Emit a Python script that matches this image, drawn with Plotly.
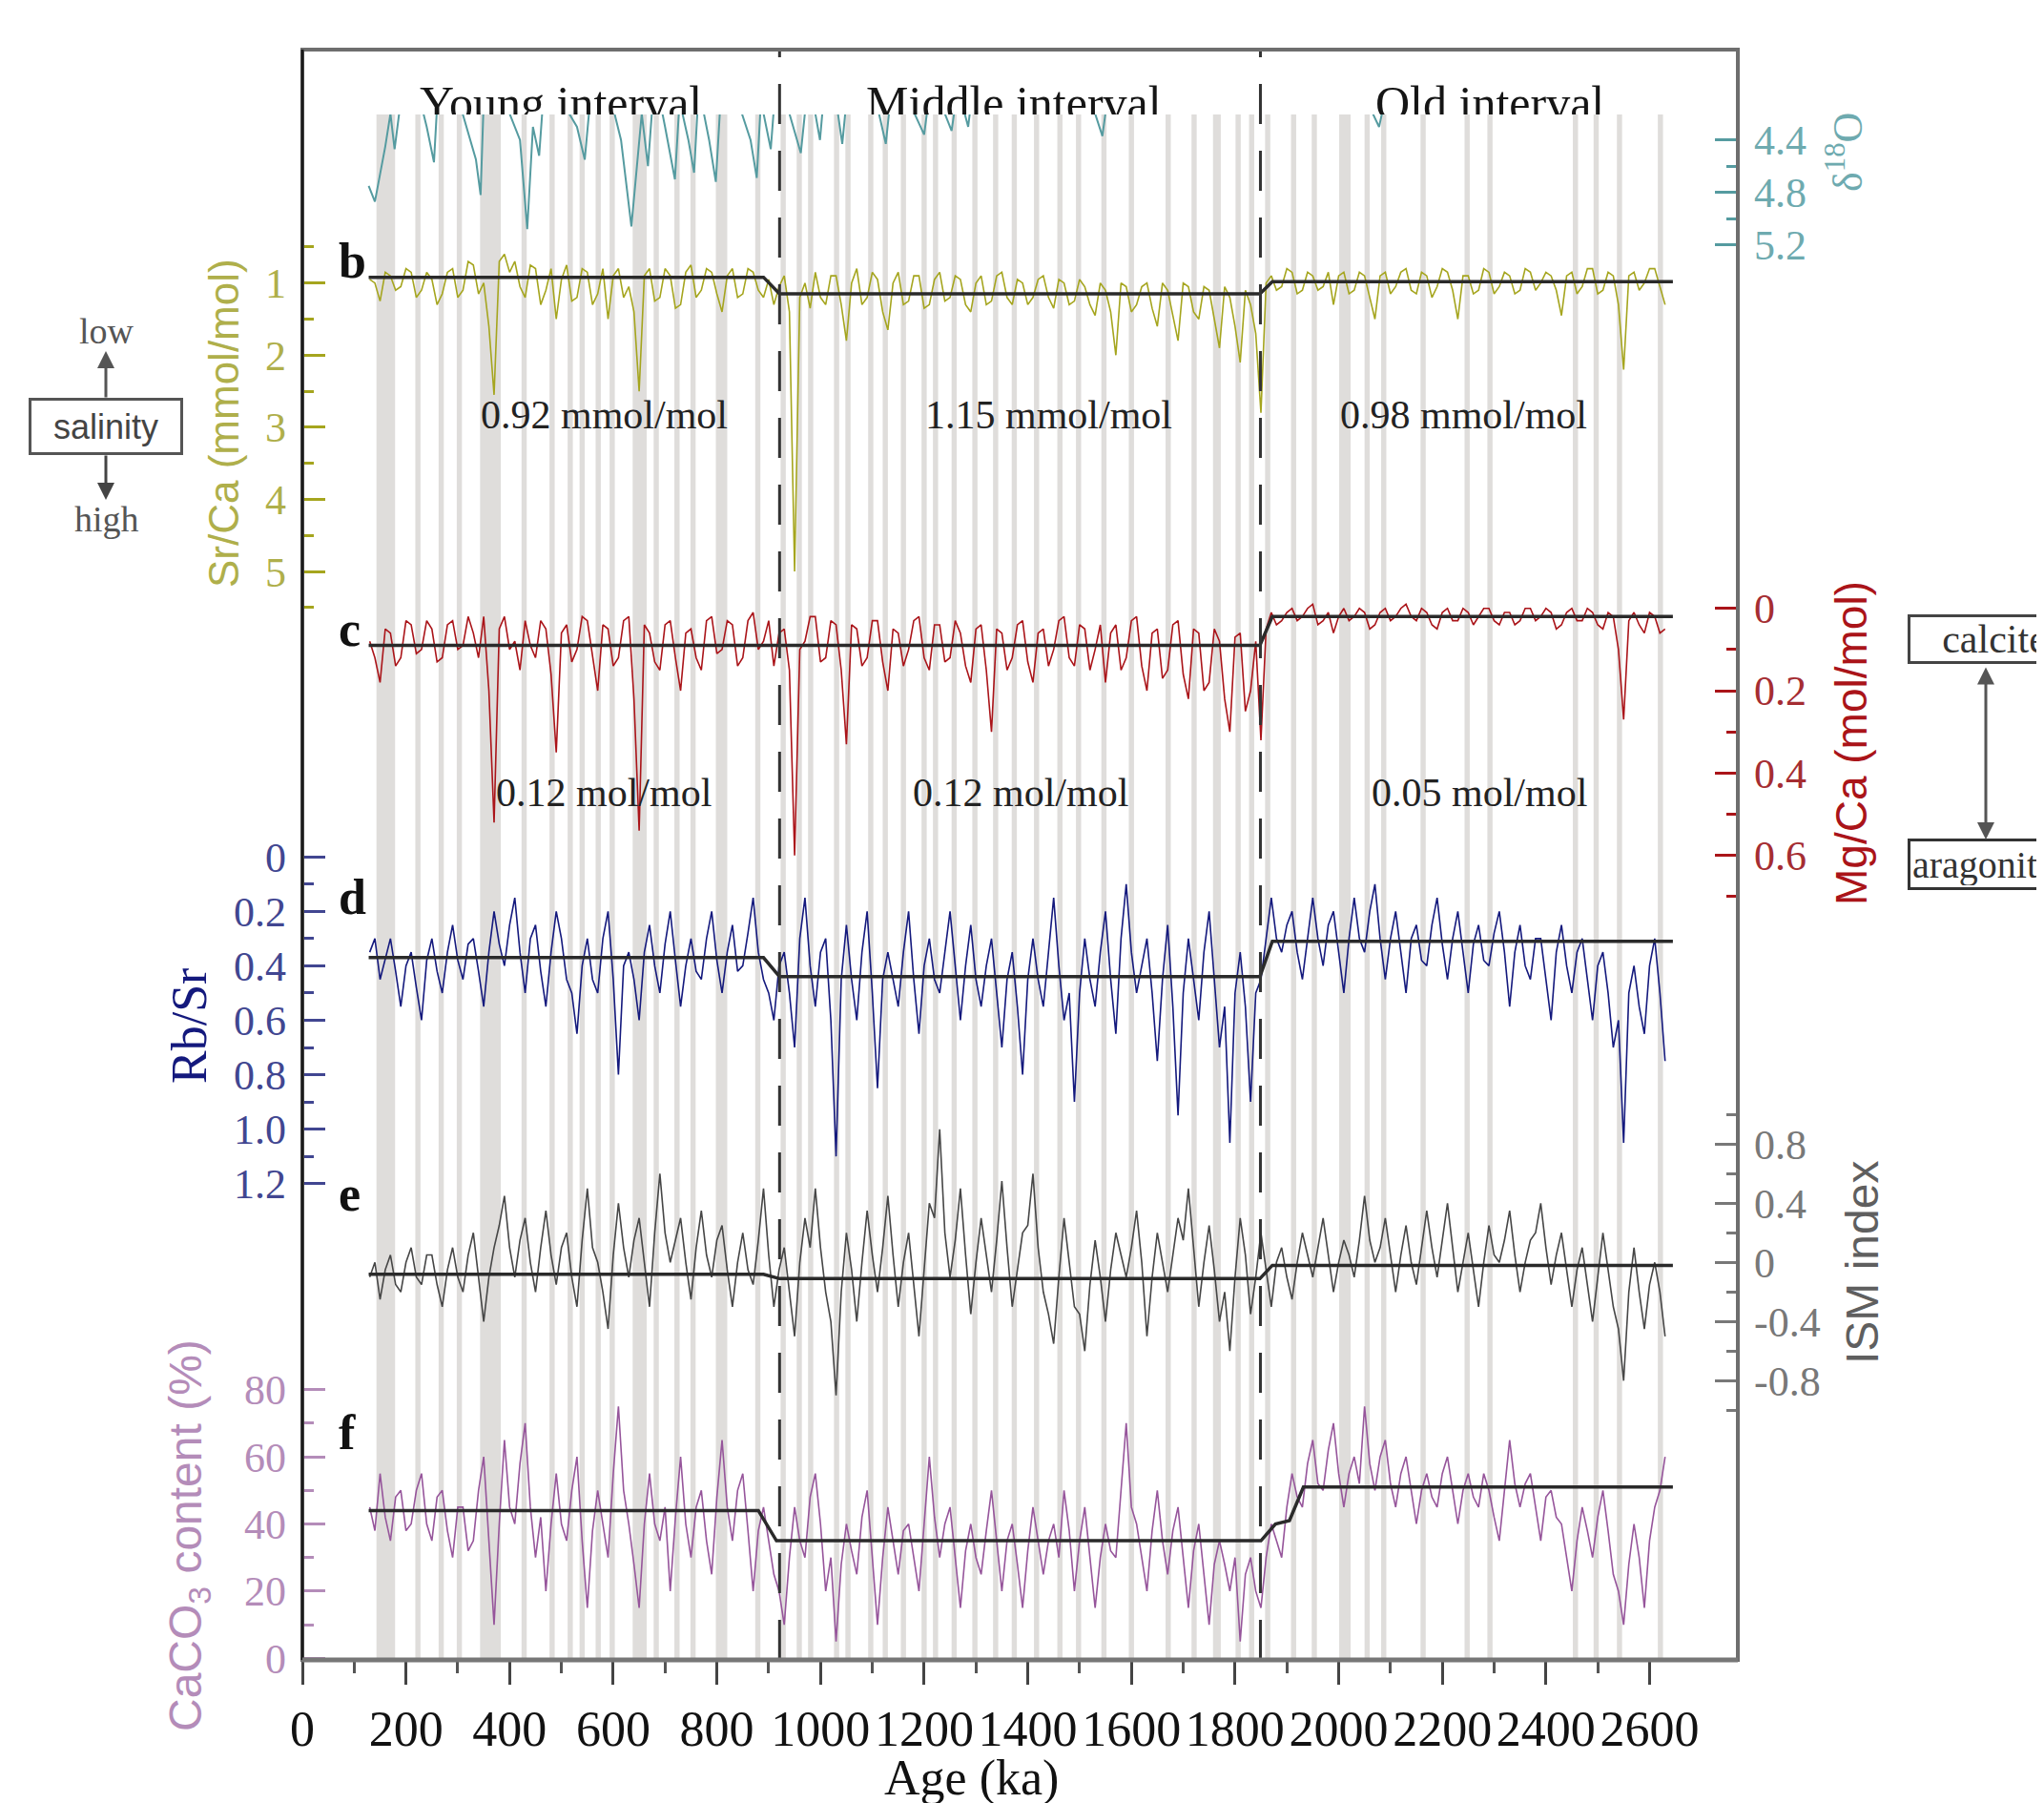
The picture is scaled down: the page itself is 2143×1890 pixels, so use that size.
import plotly.graph_objects as go

# ---------------- data ----------------
AGE = [130, 140, 150, 160, 170, 180, 190, 200, 210, 220,
       230, 240, 250, 260, 270, 280, 290, 300, 310, 320,
       330, 340, 350, 360, 370, 380, 390, 400, 410, 420,
       430, 440, 450, 460, 470, 480, 490, 500, 510, 520,
       530, 540, 550, 560, 570, 580, 590, 600, 610, 620,
       630, 640, 650, 660, 670, 680, 690, 700, 710, 720,
       730, 740, 750, 760, 770, 780, 790, 800, 810, 820,
       830, 840, 850, 860, 870, 880, 890, 900, 910, 920,
       930, 940, 950, 960, 970, 980, 990, 1000, 1010, 1020,
       1030, 1040, 1050, 1060, 1070, 1080, 1090, 1100, 1110, 1120,
       1130, 1140, 1150, 1160, 1170, 1180, 1190, 1200, 1210, 1220,
       1230, 1240, 1250, 1260, 1270, 1280, 1290, 1300, 1310, 1320,
       1330, 1340, 1350, 1360, 1370, 1380, 1390, 1400, 1410, 1420,
       1430, 1440, 1450, 1460, 1470, 1480, 1490, 1500, 1510, 1520,
       1530, 1540, 1550, 1560, 1570, 1580, 1590, 1600, 1610, 1620,
       1630, 1640, 1650, 1660, 1670, 1680, 1690, 1700, 1710, 1720,
       1730, 1740, 1750, 1760, 1770, 1780, 1790, 1800, 1810, 1820,
       1830, 1840, 1850, 1860, 1870, 1880, 1890, 1900, 1910, 1920,
       1930, 1940, 1950, 1960, 1970, 1980, 1990, 2000, 2010, 2020,
       2030, 2040, 2050, 2060, 2070, 2080, 2090, 2100, 2110, 2120,
       2130, 2140, 2150, 2160, 2170, 2180, 2190, 2200, 2210, 2220,
       2230, 2240, 2250, 2260, 2270, 2280, 2290, 2300, 2310, 2320,
       2330, 2340, 2350, 2360, 2370, 2380, 2390, 2400, 2410, 2420,
       2430, 2440, 2450, 2460, 2470, 2480, 2490, 2500, 2510, 2520,
       2530, 2540, 2550, 2560, 2570, 2580, 2590, 2600, 2610, 2620,
       2630]

SRCA = [0.95, 1.0, 1.25, 0.85, 0.9, 1.1, 1.05, 0.8, 0.85, 1.2,
        1.1, 0.85, 0.95, 1.3, 1.15, 0.85, 0.8, 1.2, 1.1, 0.7,
        0.75, 1.15, 1.0, 1.6, 2.55, 0.7, 0.6, 0.85, 0.7, 1.05,
        1.2, 0.75, 0.8, 1.3, 1.1, 0.8, 1.5, 0.95, 0.75, 1.25,
        1.2, 0.8, 0.85, 1.3, 1.15, 0.8, 1.5, 0.9, 0.8, 1.2,
        1.05, 1.4, 2.5, 0.9, 0.8, 1.25, 1.2, 0.8, 0.9, 1.35,
        1.3, 0.85, 0.75, 1.2, 1.1, 0.8, 0.85, 1.15, 1.4, 0.9,
        0.8, 1.2, 1.15, 0.8, 0.85, 1.1, 1.2, 0.95, 1.3, 1.05,
        0.9, 1.4, 5.0, 1.2, 1.0, 1.35, 0.85, 1.2, 1.3, 0.9,
        0.9, 1.3, 1.8, 1.0, 0.8, 1.3, 1.2, 0.85, 0.95, 1.4,
        1.65, 1.0, 0.85, 1.3, 1.25, 0.9, 0.9, 1.35, 1.3, 0.95,
        0.85, 1.25, 1.2, 0.9, 0.95, 1.3, 1.4, 1.0, 0.9, 1.3,
        1.25, 0.9, 0.85, 1.2, 1.3, 0.95, 1.0, 1.3, 1.2, 0.95,
        0.9, 1.2, 1.35, 0.95, 1.0, 1.3, 1.25, 0.95, 1.05, 1.3,
        1.45, 1.0, 1.1, 1.4, 2.0, 1.0, 1.05, 1.4, 1.3, 1.05,
        1.0, 1.35, 1.6, 1.0, 1.1, 1.45, 1.8, 1.0, 1.05, 1.4,
        1.5, 1.05, 1.1, 1.5, 1.9, 1.05, 1.2, 1.6, 2.1, 1.1,
        1.3, 1.7, 2.8, 1.0, 0.9, 1.1, 1.05, 0.8, 0.85, 1.15,
        1.1, 0.85, 0.9, 1.1, 1.05, 0.85, 1.3, 0.9, 0.85, 1.15,
        1.1, 0.85, 0.9, 1.2, 1.5, 0.9, 0.85, 1.15, 1.05, 0.85,
        0.8, 1.1, 1.15, 0.85, 0.9, 1.2, 1.05, 0.8, 0.85, 1.1,
        1.5, 0.9, 0.9, 1.15, 1.1, 0.8, 0.85, 1.15, 1.05, 0.85,
        0.9, 1.15, 1.1, 0.8, 0.85, 1.1, 1.0, 0.85, 0.9, 1.1,
        1.45, 0.9, 0.85, 1.15, 1.05, 0.8, 0.8, 1.15, 1.1, 0.85,
        0.9, 1.3, 2.2, 0.9, 0.85, 1.1, 1.0, 0.8, 0.8, 1.05,
        1.3]

MGCA = [0.08, 0.12, 0.18, 0.05, 0.06, 0.14, 0.12, 0.03, 0.04, 0.11,
        0.1, 0.03, 0.05, 0.13, 0.12, 0.04, 0.03, 0.1, 0.09, 0.02,
        0.06, 0.12, 0.02, 0.2, 0.52, 0.05, 0.02, 0.1, 0.08, 0.15,
        0.03, 0.09, 0.12, 0.03, 0.05, 0.16, 0.35, 0.06, 0.04, 0.13,
        0.1, 0.02, 0.03, 0.11, 0.2, 0.04, 0.05, 0.14, 0.12, 0.03,
        0.02, 0.22, 0.54, 0.04, 0.06, 0.13, 0.15, 0.04, 0.03, 0.12,
        0.2, 0.06, 0.05, 0.12, 0.15, 0.03, 0.02, 0.11, 0.1, 0.03,
        0.04, 0.14, 0.12, 0.03, 0.01, 0.1, 0.08, 0.03, 0.14, 0.06,
        0.05, 0.15, 0.6, 0.1, 0.08, 0.02, 0.02, 0.13, 0.12, 0.03,
        0.04, 0.15, 0.33, 0.04, 0.05, 0.14, 0.12, 0.03, 0.03, 0.13,
        0.2, 0.05, 0.06, 0.14, 0.1, 0.03, 0.02, 0.12, 0.15, 0.04,
        0.04, 0.13, 0.12, 0.03, 0.06, 0.14, 0.18, 0.05, 0.04, 0.15,
        0.3, 0.05, 0.06, 0.15, 0.12, 0.04, 0.03, 0.13, 0.18, 0.06,
        0.05, 0.14, 0.1, 0.03, 0.02, 0.12, 0.14, 0.04, 0.05, 0.15,
        0.1, 0.04, 0.18, 0.06, 0.04, 0.15, 0.12, 0.03, 0.02, 0.14,
        0.2, 0.06, 0.05, 0.17, 0.15, 0.04, 0.03, 0.16, 0.22, 0.05,
        0.06, 0.2, 0.18, 0.05, 0.08, 0.22, 0.3, 0.07, 0.06, 0.25,
        0.2, 0.08, 0.32, 0.05, 0.01, 0.04, 0.03, 0.01, 0.0, 0.03,
        0.02, 0.0, -0.01, 0.04, 0.03, 0.01, 0.06, 0.02, 0.0, 0.03,
        0.02, 0.0, 0.01, 0.05, 0.04, 0.01, 0.0, 0.03, 0.02, 0.0,
        -0.01, 0.02, 0.03, 0.0, 0.01, 0.04, 0.05, 0.01, 0.0, 0.03,
        0.03, 0.0, 0.01, 0.04, 0.02, 0.0, 0.0, 0.03, 0.04, 0.01,
        0.01, 0.04, 0.03, 0.0, 0.0, 0.03, 0.02, 0.0, 0.01, 0.05,
        0.04, 0.01, 0.0, 0.03, 0.03, 0.0, 0.01, 0.04, 0.05, 0.01,
        0.02, 0.1, 0.27, 0.03, 0.01, 0.04, 0.06, 0.01, 0.02, 0.06,
        0.05]

RBSR = [0.35, 0.3, 0.45, 0.38, 0.3, 0.42, 0.55, 0.4, 0.35, 0.48,
        0.6, 0.38, 0.3, 0.42, 0.5, 0.35, 0.25, 0.38, 0.45, 0.32,
        0.3, 0.42, 0.55, 0.35, 0.2, 0.32, 0.4, 0.25, 0.15, 0.35,
        0.5, 0.3, 0.25, 0.42, 0.55, 0.35, 0.2, 0.3, 0.45, 0.5,
        0.65, 0.4, 0.3, 0.45, 0.5, 0.3, 0.2, 0.45, 0.8, 0.4,
        0.35, 0.45, 0.6, 0.35, 0.25, 0.4, 0.5, 0.32, 0.2, 0.38,
        0.55, 0.4, 0.3, 0.42, 0.45, 0.3, 0.2, 0.38, 0.5, 0.35,
        0.25, 0.42, 0.4, 0.28, 0.15, 0.35, 0.45, 0.5, 0.6, 0.4,
        0.35, 0.5, 0.7, 0.3, 0.15, 0.4, 0.55, 0.35, 0.3, 0.6,
        1.1, 0.45, 0.25, 0.45, 0.6, 0.35, 0.2, 0.5, 0.85, 0.45,
        0.35, 0.45, 0.55, 0.35, 0.2, 0.45, 0.65, 0.4, 0.3, 0.45,
        0.5, 0.35, 0.2, 0.4, 0.6, 0.4, 0.25, 0.45, 0.55, 0.4,
        0.3, 0.5, 0.7, 0.45, 0.35, 0.55, 0.8, 0.45, 0.3, 0.45,
        0.55, 0.35, 0.15, 0.4, 0.6, 0.5, 0.9, 0.5, 0.3, 0.45,
        0.55, 0.35, 0.2, 0.45, 0.65, 0.3, 0.1, 0.35, 0.5, 0.4,
        0.3, 0.5, 0.75, 0.45, 0.25, 0.55, 0.95, 0.5, 0.3, 0.45,
        0.6, 0.35, 0.2, 0.45, 0.7, 0.55, 1.05, 0.5, 0.35, 0.55,
        0.9, 0.5, 0.45, 0.3, 0.15, 0.3, 0.35, 0.25, 0.2, 0.35,
        0.45, 0.3, 0.15, 0.3, 0.4, 0.25, 0.2, 0.35, 0.5, 0.3,
        0.15, 0.3, 0.35, 0.2, 0.1, 0.3, 0.45, 0.3, 0.2, 0.35,
        0.5, 0.3, 0.25, 0.38, 0.4, 0.25, 0.15, 0.32, 0.45, 0.3,
        0.2, 0.35, 0.5, 0.32, 0.25, 0.38, 0.4, 0.28, 0.2, 0.35,
        0.55, 0.35, 0.25, 0.4, 0.45, 0.3, 0.3, 0.45, 0.6, 0.35,
        0.25, 0.4, 0.5, 0.35, 0.3, 0.45, 0.6, 0.4, 0.35, 0.5,
        0.7, 0.6, 1.05, 0.5, 0.4, 0.55, 0.65, 0.4, 0.3, 0.5,
        0.75]

ISM = [-0.1, 0.0, -0.25, -0.05, 0.05, -0.15, -0.2, 0.0, 0.1, -0.1,
       -0.15, 0.05, 0.05, -0.15, -0.3, -0.05, 0.1, -0.1, -0.2, 0.05,
       0.2, -0.1, -0.4, -0.1, 0.1, 0.25, 0.45, 0.1, -0.1, 0.15,
       0.3, 0.0, -0.2, 0.1, 0.35, 0.05, -0.15, 0.1, 0.2, -0.1,
       -0.3, 0.15, 0.5, 0.1, 0.0, -0.2, -0.45, 0.05, 0.4, 0.1,
       -0.1, 0.15, 0.3, 0.0, -0.3, 0.2, 0.6, 0.2, 0.0, 0.15,
       0.3, 0.0, -0.25, 0.1, 0.35, 0.05, -0.1, 0.15, 0.25, -0.05,
       -0.3, 0.0, 0.2, -0.05, -0.15, 0.15, 0.5, 0.05, -0.3, -0.05,
       0.1, -0.2, -0.5, 0.0, 0.3, 0.1, 0.5, 0.1, -0.2, -0.4,
       -0.9, -0.2, 0.2, -0.05, -0.4, 0.0, 0.35, 0.05, -0.2, 0.1,
       0.45, 0.05, -0.3, 0.0, 0.2, -0.15, -0.5, -0.05, 0.4, 0.3,
       0.9, 0.2, -0.1, 0.15, 0.5, 0.05, -0.35, 0.0, 0.3, 0.05,
       -0.2, 0.15, 0.55, 0.1, -0.3, -0.05, 0.2, 0.25, 0.6, 0.1,
       -0.2, -0.35, -0.55, -0.1, 0.3, 0.0, -0.3, -0.35, -0.6, -0.15,
       0.15, -0.1, -0.4, -0.05, 0.2, 0.05, -0.1, 0.1, 0.35, 0.0,
       -0.5, -0.1, 0.2, 0.0, -0.2, 0.05, 0.3, 0.15, 0.5, 0.1,
       -0.3, 0.0, 0.25, -0.05, -0.4, -0.2, -0.6, -0.1, 0.3, 0.05,
       -0.35, -0.1, 0.2, -0.05, -0.3, 0.0, 0.1, -0.1, -0.25, 0.0,
       0.2, 0.05, -0.1, 0.1, 0.3, 0.05, -0.2, 0.0, 0.15, 0.05,
       -0.1, 0.15, 0.45, 0.15, 0.0, 0.1, 0.3, 0.05, -0.2, 0.05,
       0.25, 0.0, -0.15, 0.1, 0.35, 0.1, -0.1, 0.15, 0.4, 0.1,
       -0.2, 0.0, 0.2, -0.05, -0.3, 0.0, 0.25, 0.05, 0.0, 0.15,
       0.35, 0.05, -0.2, 0.0, 0.15, 0.2, 0.4, 0.1, -0.15, 0.05,
       0.2, -0.05, -0.3, -0.05, 0.1, -0.15, -0.4, -0.1, 0.2, -0.05,
       -0.3, -0.45, -0.8, -0.2, 0.1, -0.2, -0.45, -0.15, 0.0, -0.2,
       -0.5]

CACO3 = [45, 38, 55, 42, 35, 48, 50, 38, 40, 50,
         55, 40, 35, 48, 50, 38, 30, 45, 45, 32,
         35, 50, 60, 35, 10, 40, 65, 45, 40, 58,
         70, 45, 30, 42, 20, 40, 55, 40, 35, 50,
         60, 35, 15, 38, 50, 40, 30, 55, 75, 50,
         40, 28, 15, 40, 55, 40, 35, 45, 20, 42,
         60, 40, 30, 45, 50, 35, 25, 48, 65, 45,
         35, 50, 55, 38, 20, 38, 45, 35, 25, 20,
         10, 30, 45, 35, 30, 48, 55, 40, 20, 30,
         5, 28, 40, 32, 25, 42, 50, 30, 10, 30,
         45, 35, 25, 38, 40, 30, 20, 40, 60, 42,
         30, 40, 45, 30, 15, 32, 40, 30, 25, 38,
         50, 35, 20, 35, 40, 28, 15, 32, 45, 35,
         25, 35, 40, 30, 50, 38, 20, 35, 45, 30,
         15, 30, 40, 32, 30, 50, 70, 45, 40, 30,
         20, 38, 50, 35, 25, 38, 45, 30, 15, 32,
         40, 25, 10, 28, 35, 28, 20, 30, 5, 25,
         30, 20, 15, 30, 40, 35, 30, 45, 55, 48,
         45, 58, 65, 52, 50, 62, 70, 55, 45, 55,
         60, 52, 75, 58, 50, 60, 65, 52, 45, 55,
         60, 50, 40, 50, 55, 48, 45, 55, 60, 50,
         40, 50, 55, 48, 45, 55, 50, 42, 35, 50,
         65, 52, 45, 52, 55, 45, 35, 48, 50, 42,
         40, 30, 20, 35, 45, 38, 30, 42, 50, 38,
         25, 20, 10, 28, 40, 30, 15, 35, 45, 50,
         60]

D18O_AGE = [128, 140, 160, 170, 178, 190, 215, 240, 254, 262,
            280, 310, 335, 344, 350, 360, 380, 400, 420, 434,
            445, 457, 470, 500, 530, 545, 560, 590, 615, 635,
            645, 655, 667, 680, 700, 719, 728, 745, 756, 765,
            785, 798, 810, 840, 865, 877, 885, 895, 904, 915,
            940, 962, 975, 990, 999, 1010, 1030, 1042, 1055, 1080,
            1110, 1126, 1140, 1170, 1200, 1215, 1240, 1253, 1265, 1285,
            1300, 1350, 1400, 1450, 1500, 1530, 1544, 1560, 1600, 1700,
            1800, 1900, 2000, 2060, 2078, 2100, 2200, 2300, 2400, 2500,
            2600, 2640]
D18O = [4.75, 4.87, 4.45, 4.2, 4.47, 4.1, 3.9, 4.3, 4.57, 4.0,
        3.8, 4.2, 4.55, 4.82, 4.1, 3.6, 4.0, 4.2, 4.4, 5.08,
        4.3, 4.52, 3.8, 4.1, 4.3, 4.55, 3.9, 4.0, 4.4, 5.06,
        4.6, 4.2, 4.6, 3.9, 4.3, 4.7, 4.1, 4.4, 4.65, 4.0,
        4.4, 4.72, 3.9, 4.1, 4.4, 4.69, 4.1, 4.3, 4.47, 3.9,
        4.2, 4.5, 4.0, 4.2, 4.4, 3.9, 4.1, 4.43, 3.9, 4.0,
        4.15, 4.43, 3.9, 4.1, 4.36, 3.9, 4.2, 4.33, 4.0, 4.3,
        3.8, 4.0, 3.9, 4.1, 4.0, 4.2, 4.37, 3.9, 4.0, 4.1,
        3.9, 4.0, 4.1, 4.15, 4.3, 3.9, 4.0, 3.9, 4.0, 3.9,
        4.0, 4.0]

MEAN_AGE = [128, 890, 921, 1848, 1872, 2645]
SRCA_MEAN = [0.92, 0.92, 1.15, 1.15, 0.98, 0.98]
MGCA_MEAN = [0.09, 0.09, 0.09, 0.09, 0.02, 0.02]
RBSR_MEAN = [0.37, 0.37, 0.44, 0.44, 0.31, 0.31]
ISM_MEAN = [-0.08, -0.08, -0.11, -0.11, -0.02, -0.02]
CACO3_MEAN_AGE = [128, 880, 915, 1850, 1878, 1905, 1932, 2645]
CACO3_MEAN = [44, 44, 35, 35, 40, 41, 51, 51]

BAND_AGE = [161, 223, 268, 303, 363, 428, 482, 517, 540, 571, 598, 651, 683, 723, 754, 809,
            879, 928, 959, 981, 1031, 1053, 1097, 1125, 1160, 1200, 1222, 1258, 1298, 1338,
            1374, 1417, 1462, 1498, 1547, 1600, 1671, 1721, 1765, 1806, 1832, 1863, 1913,
            1953, 2012, 2055, 2087, 2163, 2248, 2292, 2457, 2497, 2542, 2621]
BAND_WIDTH = [36, 10, 10, 10, 40, 10, 10, 10, 10, 10, 10, 27, 10, 10, 10, 22,
              10, 10, 10, 10, 10, 10, 10, 10, 10, 10, 10, 10, 10, 10,
              10, 10, 10, 10, 10, 10, 10, 10, 15, 10, 10, 10, 10,
              10, 22, 10, 10, 10, 10, 10, 10, 10, 10, 10]

BOUNDARY_AGE = [921, 1849]
X_TICKS = [0, 200, 400, 600, 800, 1000, 1200, 1400, 1600, 1800, 2000, 2200, 2400, 2600]
X_MINOR = [100, 300, 500, 700, 900, 1100, 1300, 1500, 1700, 1900, 2100, 2300, 2500]

INTERVAL_NAMES = ["Young interval", "Middle interval", "Old interval"]
INTERVAL_AGE = [499, 1373, 2292]
SRCA_LABELS = ["0.92 mmol/mol", "1.15 mmol/mol", "0.98 mmol/mol"]
SRCA_LABEL_AGE = [582, 1441, 2242]
MGCA_LABELS = ["0.12 mol/mol", "0.12 mol/mol", "0.05 mol/mol"]
MGCA_LABEL_AGE = [582, 1386, 2272]

# ---------------- geometry / style (page pixel coordinates) ----------------
PAGE_W, PAGE_H = 2143, 1890
OFF = 8                      # default body margin of the html page
FIG_W, FIG_H = PAGE_W - OFF, PAGE_H - OFF
PL, PR, PT, PB = 317, 1822, 52, 1740
KA_PER_PX = 200 / 108.65
SERIF = "Liberation Serif, Times New Roman, serif"
SANS = "Liberation Sans, Arial, sans-serif"

C_TEAL, C_TEAL_T = "rgb(85,155,160)", "rgb(110,170,175)"
C_OLIVE, C_OLIVE_T = "rgb(165,165,30)", "rgb(175,175,75)"
C_RED, C_RED_T = "rgb(170,20,25)", "rgb(165,45,50)"
C_NAVY, C_NAVY_T = "rgb(20,25,125)", "rgb(65,70,145)"
C_GRAY, C_GRAY_T = "rgb(70,70,70)", "rgb(120,120,120)"
C_PURP, C_PURP_T = "rgb(150,85,155)", "rgb(180,140,185)"
C_MEAN = "#2a2a2a"
C_BAND = "#dfdddb"


def fx(px):
    return (px - PL) / (PR - PL)


def fy(py):
    return (PB - py) / (PB - PT)


def vrange(v0, p0, ppu, top, bot, down=True):
    s = 1 if down else -1
    return [v0 + s * (bot - p0) / ppu, v0 + s * (top - p0) / ppu]


def yax(top, bot, rng, side, col, colt, tv, tt, mv):
    return dict(domain=[fy(bot), fy(top)], range=rng, side=side, anchor="x",
                showgrid=False, zeroline=False, showline=False,
                ticks="inside", ticklen=24, tickwidth=3, tickcolor=col,
                tickvals=tv, ticktext=tt,
                tickfont=dict(family=SERIF, size=44, color=colt),
                ticklabelstandoff=16,
                minor=dict(ticks="inside", ticklen=12, tickwidth=3, tickcolor=col,
                           tickvals=mv, showgrid=False),
                fixedrange=True)


fig = go.Figure()


def series(x, y, ax, col, w=1.6):
    fig.add_trace(go.Scatter(x=x, y=y, mode="lines", line=dict(color=col, width=w),
                             xaxis="x", yaxis=ax, hoverinfo="skip"))


series(D18O_AGE, D18O, "y", C_TEAL, 2)
series(AGE, SRCA, "y2", C_OLIVE)
series(AGE, MGCA, "y3", C_RED)
series(AGE, RBSR, "y4", C_NAVY)
series(AGE, ISM, "y5", C_GRAY)
series(AGE, CACO3, "y6", C_PURP)
series(MEAN_AGE, SRCA_MEAN, "y2", C_MEAN, 3.5)
series(MEAN_AGE, MGCA_MEAN, "y3", C_MEAN, 3.5)
series(MEAN_AGE, RBSR_MEAN, "y4", C_MEAN, 3.5)
series(MEAN_AGE, ISM_MEAN, "y5", C_MEAN, 3.5)
series(CACO3_MEAN_AGE, CACO3_MEAN, "y6", C_MEAN, 3.5)

# interval titles (clipped at the top of the band area like the original)
fig.add_trace(go.Scatter(x=INTERVAL_AGE, y=[(120 - 112) / 68] * 3, mode="text",
                         text=INTERVAL_NAMES, textposition="middle center",
                         textfont=dict(family=SERIF, size=50, color="#151515"),
                         xaxis="x", yaxis="y7", cliponaxis=True, hoverinfo="skip"))

shapes = []
for a, w in zip(BAND_AGE, BAND_WIDTH):
    shapes.append(dict(type="rect", xref="x", yref="paper", x0=a - w / 2, x1=a + w / 2,
                       y0=0, y1=fy(120), fillcolor=C_BAND, line=dict(width=0), layer="below"))
for b in BOUNDARY_AGE:
    shapes.append(dict(type="line", xref="x", yref="paper", x0=b, x1=b, y0=0, y1=1,
                       line=dict(color="#333333", width=3, dash="42px,28px"), layer="above"))
shapes.append(dict(type="rect", xref="paper", yref="paper", x0=0, x1=1, y0=0, y1=1,
                   line=dict(color="#6e6e6e", width=4), layer="above"))
shapes.append(dict(type="line", xref="paper", yref="paper", x0=0, x1=0, y0=0, y1=1,
                   line=dict(color="#1a1a1a", width=3), layer="above"))
shapes.append(dict(type="line", xref="paper", yref="paper", x0=0, x1=1, y0=0, y1=0,
                   line=dict(color="#777777", width=5), layer="above"))

ann = []


def txt(text, x, y, size, color, family=SERIF, angle=0, **kw):
    d = dict(text=text, xref="paper", yref="paper", x=fx(x), y=fy(y), showarrow=False,
             textangle=angle, font=dict(family=family, size=size, color=color),
             xanchor="center", yanchor="middle")
    d.update(kw)
    ann.append(d)


# axis titles
txt("Sr/Ca (mmol/mol)", 235, 444, 44, C_OLIVE_T, SANS, -90)
txt("Rb/Sr", 198, 1076, 52, C_NAVY, SERIF, -90)
txt("CaCO<sub>3</sub> content (%)", 198, 1610, 48, C_PURP_T, SANS, -90)
txt("δ<sup>18</sup>O", 1934, 160, 44, C_TEAL_T, SERIF, -90)
txt("Mg/Ca (mol/mol)", 1941, 779, 46, C_RED, SANS, -90)
txt("ISM index", 1952, 1323, 48, "rgb(95,95,95)", SANS, -90)
txt("Age (ka)", 1018, 1864, 52, "#111111", SERIF)

# panel letters
for letter, (lx, ly) in zip("bcdef", [(369, 273), (366, 659), (369, 940), (366, 1251), (364, 1501)]):
    txt("<b>%s</b>" % letter, lx, ly, 52, "#111111", SERIF)

# interval means
for t, a in zip(SRCA_LABELS, SRCA_LABEL_AGE):
    ann.append(dict(text=t, xref="x", yref="paper", x=a, y=fy(435), showarrow=False,
                    xanchor="center", yanchor="middle",
                    font=dict(family=SERIF, size=42, color="#222222")))
for t, a in zip(MGCA_LABELS, MGCA_LABEL_AGE):
    ann.append(dict(text=t, xref="x", yref="paper", x=a, y=fy(831), showarrow=False,
                    xanchor="center", yanchor="middle",
                    font=dict(family=SERIF, size=42, color="#222222")))

# salinity indicator
txt("salinity", 111, 447, 36, "#444444", SANS, bordercolor="#555555", borderwidth=3,
    borderpad=5, bgcolor="white", width=146, height=44)
txt("low", 112, 347, 38, "#555555", SERIF)
txt("high", 112, 544, 38, "#555555", SERIF)
ann.append(dict(text="", xref="paper", yref="paper", x=fx(111), y=fy(368), ax=0, ay=50,
                showarrow=True, arrowhead=2, arrowsize=1.2, arrowwidth=3, arrowcolor="#555555"))
ann.append(dict(text="", xref="paper", yref="paper", x=fx(111), y=fy(524), ax=0, ay=-48,
                showarrow=True, arrowhead=2, arrowsize=1.2, arrowwidth=3, arrowcolor="#444444"))

# calcite / aragonite indicator
txt("calcite", 2000, 670, 42, "#333333", SERIF, xanchor="left", bordercolor="#444444",
    borderwidth=3, borderpad=3, bgcolor="white", width=170, height=40, align="center")
txt("aragonite", 2000, 906, 40, "#333333", SERIF, xanchor="left", bordercolor="#333333",
    borderwidth=3, borderpad=2, bgcolor="white", width=230, height=44, align="left")
ann.append(dict(text="", xref="paper", yref="paper", x=fx(2082), y=fy(880), ax=0, ay=-182,
                showarrow=True, arrowhead=2, arrowside="end+start", arrowsize=1.2,
                arrowwidth=3, arrowcolor="#555555"))

fig.update_layout(
    width=FIG_W, height=FIG_H,
    margin=dict(l=PL - OFF, r=PAGE_W - PR, t=PT - OFF, b=PAGE_H - PB, pad=0),
    paper_bgcolor="white", plot_bgcolor="rgba(0,0,0,0)",
    showlegend=False,
    xaxis=dict(domain=[0, 1], range=[0, (PR - PL) * KA_PER_PX], anchor="y6",
               showgrid=False, zeroline=False, showline=False,
               ticks="outside", ticklen=25, tickwidth=3, tickcolor="#444444",
               tickvals=X_TICKS, tickfont=dict(family=SERIF, size=52, color="#111111"),
               ticklabelstandoff=2,
               minor=dict(ticks="outside", ticklen=13, tickwidth=3, tickcolor="#555555",
                          tickvals=X_MINOR, showgrid=False),
               fixedrange=True),
    yaxis=yax(120, 262, vrange(4.4, 146.7, 137.5, 120, 262, True), "right", C_TEAL, C_TEAL_T,
              [4.4, 4.8, 5.2], ["4.4", "4.8", "5.2"], [4.2, 4.6, 5.0]),
    yaxis2=yax(255, 640, vrange(1, 296.7, 75.6, 255, 640, True), "left", C_OLIVE, C_OLIVE_T,
               [1, 2, 3, 4, 5], ["1", "2", "3", "4", "5"], [0.5, 1.5, 2.5, 3.5, 4.5, 5.5]),
    yaxis3=yax(628, 945, vrange(0, 637.7, 431.7, 628, 945, True), "right", C_RED, C_RED_T,
               [0, 0.2, 0.4, 0.6], ["0", "0.2", "0.4", "0.6"], [0.1, 0.3, 0.5, 0.7]),
    yaxis4=yax(885, 1250, vrange(0, 898.3, 285.3, 885, 1250, True), "left", C_NAVY_T, C_NAVY_T,
               [0, 0.2, 0.4, 0.6, 0.8, 1.0, 1.2], ["0", "0.2", "0.4", "0.6", "0.8", "1.0", "1.2"],
               [0.1, 0.3, 0.5, 0.7, 0.9, 1.1]),
    yaxis5=yax(1160, 1485, vrange(0, 1323.3, 155, 1160, 1485, False), "right", C_GRAY_T, C_GRAY_T,
               [-0.8, -0.4, 0, 0.4, 0.8], ["-0.8", "-0.4", "0", "0.4", "0.8"],
               [-1.0, -0.6, -0.2, 0.2, 0.6, 1.0]),
    yaxis6=yax(1440, 1740, vrange(0, 1738.3, 3.52, 1440, 1740, False), "left", C_PURP_T, C_PURP_T,
               [0, 20, 40, 60, 80], ["0", "20", "40", "60", "80"], [10, 30, 50, 70]),
    yaxis7=dict(domain=[fy(120), 1], range=[0, 1], anchor="x", visible=False, fixedrange=True),
    shapes=shapes,
    annotations=ann,
)

fig.write_html("out.html")
